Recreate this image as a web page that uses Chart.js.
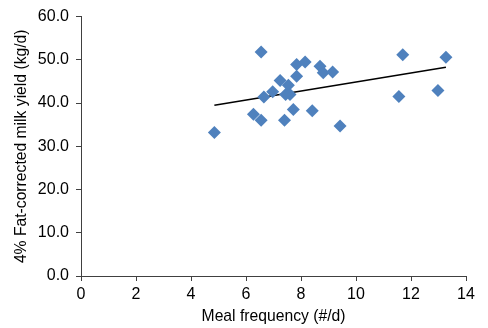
<!DOCTYPE html>
<html>
<head>
<meta charset="utf-8">
<script src="https://cdn.jsdelivr.net/npm/chart.js@4/dist/chart.umd.min.js"></script>
<style>
html,body{margin:0;padding:0;background:#fff;}
#wrap{width:488px;height:328px;position:relative;}
</style>
</head>
<body>
<div id="wrap"><canvas id="c" width="488" height="328"></canvas></div>
<script>
// Observed data: meal frequency (#/d) vs 4% FCM yield (kg/d)
const mealFreq = [4.85, 6.55, 6.27, 6.55, 6.65, 6.97, 7.24, 7.54, 7.44, 7.6, 7.4, 7.72, 7.84, 7.84, 8.15, 8.41, 8.69, 8.81, 9.15, 9.42, 11.7, 13.27, 11.56, 12.98];
const fcmYield = [33.2, 51.8, 37.4, 36.0, 41.4, 42.6, 45.2, 44.1, 42.0, 42.0, 36.0, 38.5, 46.2, 48.9, 49.5, 38.2, 48.5, 47.0, 47.2, 34.7, 51.2, 50.6, 41.5, 42.9];
// Linear trend line endpoints
const trendX = [4.85, 13.27];
const trendY = [39.5, 48.3];
const xTicks = [0, 2, 4, 6, 8, 10, 12, 14];
const yTicks = [0, 10, 20, 30, 40, 50, 60];

const FONT = 'Liberation Sans, Arial, sans-serif';
const axisColor = '#404040';

new Chart(document.getElementById('c'), {
  type: 'scatter',
  data: {
    datasets: [
      {
        label: 'Observed',
        data: mealFreq.map((x, i) => ({x: x, y: fcmYield[i]})),
        pointStyle: 'rectRot',
        pointRadius: 6.5,
        pointHoverRadius: 6.5,
        backgroundColor: '#4F81BD',
        borderColor: '#4F81BD',
        borderWidth: 0
      },
      {
        label: 'Linear',
        type: 'line',
        data: trendX.map((x, i) => ({x: x, y: trendY[i]})),
        showLine: true,
        pointRadius: 0,
        borderColor: '#000',
        borderWidth: 1.5,
        fill: false
      }
    ]
  },
  options: {
    responsive: false,
    animation: false,
    devicePixelRatio: 1,
    layout: {padding: {left: 0, right: 22, top: 15, bottom: 0}},
    plugins: {legend: {display: false}, tooltip: {enabled: false}},
    scales: {
      x: {
        type: 'linear',
        min: 0, max: 14,
        afterBuildTicks: s => { s.ticks = xTicks.map(v => ({value: v})); },
        afterFit: s => { s.height = 52; },
        ticks: {color: '#000', font: {family: FONT, size: 16}, padding: 4, maxRotation: 0},
        grid: {display: true, drawOnChartArea: false, drawTicks: true, tickLength: 5, color: axisColor},
        border: {display: true, color: axisColor, width: 1},
        title: {display: true, text: 'Meal frequency (#/d)', color: '#000', font: {family: FONT, size: 15.7}, padding: {top: 0, bottom: 2}}
      },
      y: {
        type: 'linear',
        min: 0, max: 60,
        afterBuildTicks: s => { s.ticks = yTicks.map(v => ({value: v})); },
        afterFit: s => { s.width = 81; },
        ticks: {color: '#000', font: {family: FONT, size: 16}, padding: 7, callback: v => Number(v).toFixed(1)},
        grid: {display: true, drawOnChartArea: false, drawTicks: true, tickLength: 5, color: axisColor},
        border: {display: true, color: axisColor, width: 1},
        title: {display: true, text: '4% Fat-corrected milk yield (kg/d)', color: '#000', font: {family: FONT, size: 15.7}, padding: {top: 12, bottom: 0}}
      }
    }
  }
});
</script>
</body>
</html>
